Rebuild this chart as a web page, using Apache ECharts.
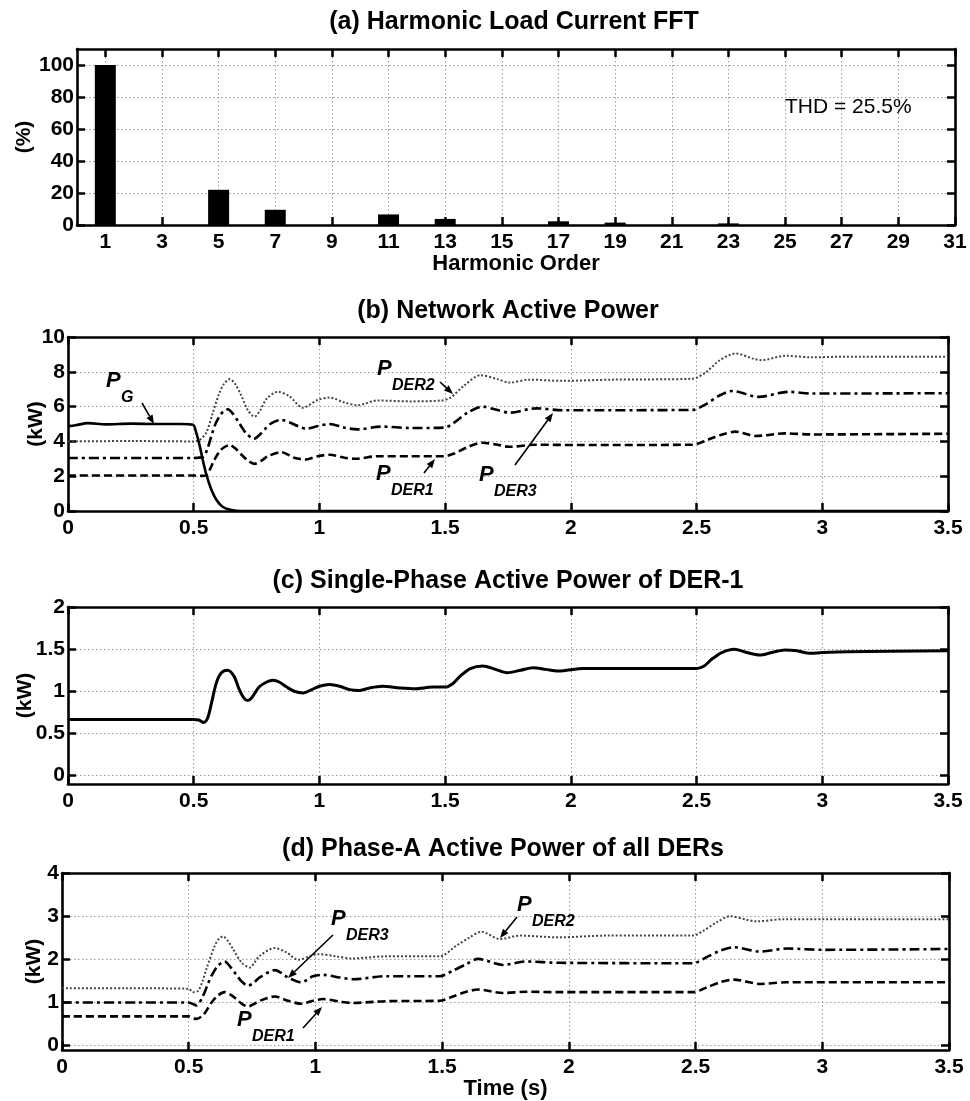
<!DOCTYPE html>
<html>
<head>
<meta charset="utf-8">
<script src="https://cdn.jsdelivr.net/npm/echarts@6/dist/echarts.min.js"></script>
<style>
  html, body { margin: 0; padding: 0; background: #fff; }
  #main { width: 970px; height: 1101px; }
</style>
</head>
<body>
<div id="main"></div>
<script>
// (a) harmonic load current spectrum, % of fundamental
var harmonicOrders = [1, 3, 5, 7, 9, 11, 13, 15, 17, 19, 21, 23, 25, 27, 29, 31];
var harmonicPct = [100, 0, 22, 9.5, 0, 6.6, 3.8, 0, 2.3, 1.5, 0, 1.0, 0, 0, 0, 0];
var percentTicks = [0, 20, 40, 60, 80, 100];

// tick values for the time panels
var timeTicks = [0, 0.5, 1, 1.5, 2, 2.5, 3, 3.5];
var netTicks = [0, 2, 4, 6, 8, 10];
var singleTicks = [0, 0.5, 1, 1.5, 2];
var phaseTicks = [0, 1, 2, 3, 4];

// (b) network active power [t (s), kW]
var netPG = [[0,4.88],[0.03,4.93],[0.08,5.05],[0.15,4.98],[0.25,5.02],[0.35,5.0],[0.45,5.0],[0.497,4.96],
  [0.51,4.5],[0.524,3.73],[0.537,2.87],[0.55,2.1],[0.57,1.23],[0.59,0.65],[0.616,0.23],[0.65,0.06],
  [0.69,0],[1.0,0],[3.5,0]];
var netDER1 = [[0,2.04],[0.3,2.04],[0.5,2.04],[0.53,2.02],[0.55,2.05],[0.565,2.4],[0.583,2.96],[0.61,3.54],
  [0.643,3.79],[0.665,3.6],[0.689,3.25],[0.715,2.9],[0.742,2.71],[0.77,2.9],[0.795,3.15],[0.848,3.38],
  [0.9,3.06],[0.947,2.96],[0.993,3.15],[1.04,3.23],[1.1,3.06],[1.145,3.0],[1.231,3.15],[1.364,3.15],
  [1.496,3.15],[1.536,3.3],[1.589,3.67],[1.648,3.92],[1.7,3.83],[1.755,3.69],[1.861,3.81],[2.03,3.79],
  [2.483,3.81],[2.549,4.12],[2.602,4.4],[2.655,4.56],[2.734,4.31],[2.853,4.46],[2.96,4.4],[3.5,4.44]];
var netDER2 = [[0,4.0],[0.25,4.02],[0.5,4.0],[0.525,4.1],[0.55,4.5],[0.575,5.6],[0.6,6.7],[0.62,7.3],
  [0.643,7.58],[0.665,7.3],[0.69,6.6],[0.715,5.8],[0.742,5.42],[0.765,5.8],[0.79,6.45],[0.835,6.85],
  [0.88,6.6],[0.934,5.94],[0.993,6.38],[1.04,6.52],[1.1,6.23],[1.152,6.08],[1.23,6.35],[1.364,6.3],
  [1.483,6.35],[1.52,6.5],[1.575,7.2],[1.64,7.8],[1.708,7.58],[1.755,7.38],[1.835,7.55],[1.967,7.48],
  [2.165,7.55],[2.483,7.6],[2.536,7.96],[2.589,8.63],[2.655,9.05],[2.73,8.73],[2.76,8.67],[2.853,8.92],
  [2.96,8.83],[3.09,8.87],[3.5,8.87]];
var netDER3 = [[0,3.05],[0.3,3.05],[0.5,3.05],[0.537,3.1],[0.555,3.6],[0.57,4.3],[0.585,4.95],[0.603,5.46],
  [0.62,5.75],[0.636,5.85],[0.655,5.6],[0.676,5.17],[0.692,4.8],[0.709,4.46],[0.74,4.15],[0.76,4.35],
  [0.782,4.69],[0.81,5.05],[0.848,5.23],[0.88,5.1],[0.914,4.88],[0.947,4.73],[0.993,4.88],[1.04,5.0],
  [1.1,4.79],[1.152,4.69],[1.245,4.85],[1.364,4.77],[1.496,4.79],[1.536,5.08],[1.589,5.65],[1.648,6.0],
  [1.708,5.8],[1.755,5.65],[1.861,5.9],[1.967,5.79],[2.483,5.81],[2.536,6.13],[2.589,6.62],[2.642,6.9],
  [2.747,6.56],[2.866,6.85],[2.96,6.75],[3.5,6.77]];

// (c) single-phase active power of DER-1 [t, kW]
var singleDER1 = [[0,0.665],[0.3,0.665],[0.5,0.665],[0.52,0.66],[0.54,0.63],[0.555,0.68],[0.57,0.85],
  [0.59,1.1],[0.61,1.22],[0.635,1.25],[0.66,1.18],[0.68,1.03],[0.7,0.92],[0.715,0.89],[0.73,0.92],
  [0.76,1.05],[0.79,1.11],[0.815,1.13],[0.84,1.11],[0.87,1.05],[0.9,1.0],[0.935,0.98],[0.97,1.02],
  [1.0,1.06],[1.04,1.08],[1.08,1.06],[1.12,1.02],[1.16,1.01],[1.2,1.04],[1.25,1.06],[1.32,1.04],
  [1.38,1.03],[1.45,1.05],[1.5,1.05],[1.53,1.09],[1.56,1.18],[1.6,1.27],[1.65,1.30],[1.7,1.26],
  [1.745,1.22],[1.8,1.25],[1.85,1.28],[1.9,1.26],[1.95,1.24],[2.05,1.27],[2.5,1.27],[2.53,1.30],
  [2.56,1.38],[2.6,1.46],[2.65,1.50],[2.7,1.46],[2.75,1.43],[2.8,1.46],[2.85,1.49],[2.9,1.48],
  [2.95,1.45],[3.0,1.46],[3.1,1.47],[3.5,1.48]];

// (d) phase-A active power of all DERs [t, kW]
var phaseDER1 = [[0,0.68],[0.3,0.68],[0.5,0.68],[0.53,0.62],[0.557,0.71],[0.575,0.86],[0.59,1.0],[0.615,1.16],
  [0.642,1.24],[0.665,1.18],[0.688,1.08],[0.71,0.97],[0.734,0.91],[0.755,0.96],[0.78,1.04],[0.84,1.14],
  [0.892,1.04],[0.945,0.97],[0.99,1.04],[1.03,1.08],[1.096,1.02],[1.142,0.99],[1.28,1.03],[1.49,1.04],
  [1.543,1.14],[1.596,1.25],[1.642,1.30],[1.74,1.22],[1.832,1.25],[1.96,1.24],[2.49,1.24],[2.544,1.35],
  [2.597,1.47],[2.65,1.53],[2.756,1.43],[2.86,1.47],[3.5,1.47]];
var phaseDER2 = [[0,1.33],[0.25,1.33],[0.5,1.32],[0.517,1.24],[0.537,1.27],[0.555,1.5],[0.57,1.78],
  [0.603,2.32],[0.62,2.48],[0.636,2.53],[0.655,2.42],[0.675,2.24],[0.708,1.93],[0.741,1.81],[0.76,1.93],
  [0.78,2.08],[0.84,2.26],[0.886,2.16],[0.932,1.99],[0.978,2.07],[1.01,2.12],[1.083,2.07],[1.142,2.02],
  [1.28,2.07],[1.49,2.07],[1.557,2.32],[1.609,2.51],[1.655,2.64],[1.728,2.47],[1.807,2.55],[1.96,2.51],
  [2.148,2.55],[2.49,2.55],[2.53,2.66],[2.584,2.86],[2.637,3.0],[2.7,2.92],[2.74,2.88],[2.85,2.93],
  [3.01,2.93],[3.5,2.93]];
var phaseDER3 = [[0,1.0],[0.3,1.0],[0.5,1.0],[0.53,0.93],[0.557,1.16],[0.575,1.42],[0.59,1.62],[0.615,1.85],
  [0.642,1.95],[0.665,1.82],[0.688,1.64],[0.71,1.48],[0.734,1.39],[0.755,1.45],[0.78,1.58],[0.84,1.75],
  [0.892,1.58],[0.945,1.47],[0.99,1.61],[1.03,1.64],[1.096,1.58],[1.149,1.54],[1.28,1.61],[1.49,1.61],
  [1.543,1.74],[1.596,1.89],[1.642,2.01],[1.74,1.87],[1.832,1.95],[1.96,1.92],[2.49,1.91],[2.544,2.05],
  [2.597,2.2],[2.65,2.28],[2.756,2.18],[2.86,2.25],[3.007,2.22],[3.5,2.24]];

var FONT = '"Liberation Sans", Arial, Helvetica, sans-serif';
var chart = echarts.init(document.getElementById('main'), null, { renderer: 'canvas' });

var frameStyle = { color: '#000', width: 2.6 };
var dots = { show: true, lineStyle: { color: '#9a9a9a', width: 1, type: [1.5, 2.5] } };

function tickStyle(values) {
  return { show: true, inside: true, length: 8, customValues: values, lineStyle: { color: '#000', width: 2.5 } };
}

// bottom/left axes carry labels and grid lines, top/right just close the box
function xPair(grid, min, max, ticks, name, gap) {
  return [{
    type: 'value', gridIndex: grid, position: 'bottom', min: min, max: max,
    axisLine: { show: true, onZero: false, lineStyle: frameStyle },
    axisTick: tickStyle(ticks),
    axisLabel: { customValues: ticks, margin: 7, color: '#000', fontSize: 21, fontWeight: 'bold', fontFamily: FONT },
    splitLine: dots,
    name: name || '', nameLocation: 'middle', nameGap: gap || 0, nameMoveOverlap: false,
    nameTextStyle: { color: '#000', fontSize: 22, fontWeight: 'bold', fontFamily: FONT, verticalAlign: 'top' }
  }, {
    type: 'value', gridIndex: grid, position: 'top', min: min, max: max,
    axisLine: { show: true, onZero: false, lineStyle: frameStyle },
    axisTick: tickStyle(ticks), axisLabel: { show: false }, splitLine: { show: false }
  }];
}

function yPair(grid, min, max, ticks, name, gap) {
  return [{
    type: 'value', gridIndex: grid, position: 'left', min: min, max: max,
    axisLine: { show: true, onZero: false, lineStyle: frameStyle },
    axisTick: tickStyle(ticks),
    axisLabel: { customValues: ticks, margin: 3, color: '#000', fontSize: 21, fontWeight: 'bold', fontFamily: FONT },
    splitLine: dots,
    name: name, nameLocation: 'middle', nameGap: gap, nameMoveOverlap: false,
    nameTextStyle: { color: '#000', fontSize: 21, fontWeight: 'bold', fontFamily: FONT }
  }, {
    type: 'value', gridIndex: grid, position: 'right', min: min, max: max,
    axisLine: { show: true, onZero: false, lineStyle: frameStyle },
    axisTick: tickStyle(ticks), axisLabel: { show: false }, splitLine: { show: false }
  }];
}

function lineSeries(panel, data, width, type, color) {
  return {
    type: 'line', xAxisIndex: panel * 2, yAxisIndex: panel * 2, data: data,
    showSymbol: false, symbol: 'none', smooth: 0.3, clip: true,
    lineStyle: { color: color || '#000', width: width, type: type }
  };
}

function title(text, cx, cy) {
  return { type: 'text', x: cx, y: cy, z: 10,
    style: { text: text, fill: '#000', font: 'bold 25px ' + FONT, textAlign: 'center', textVerticalAlign: 'middle' } };
}

// "P" with a subscript, placed by pixel
function pLabel(px, py, sub) {
  return [
    { type: 'text', x: px, y: py, z: 10,
      style: { text: 'P', fill: '#000', font: 'italic bold 22px ' + FONT, textVerticalAlign: 'top' } },
    { type: 'text', x: px + 15, y: py + 20, z: 10,
      style: { text: sub, fill: '#000', font: 'italic bold 16px ' + FONT, textVerticalAlign: 'top' } }
  ];
}

function arrow(x1, y1, x2, y2) {
  var a = Math.atan2(y2 - y1, x2 - x1), L = 9, W = 3.5;
  var bx = x2 - L * Math.cos(a), by = y2 - L * Math.sin(a);
  return [
    { type: 'line', z: 10, shape: { x1: x1, y1: y1, x2: bx, y2: by }, style: { stroke: '#000', lineWidth: 1.6 } },
    { type: 'polygon', z: 10, shape: { points: [[x2, y2],
        [bx + W * Math.sin(a), by - W * Math.cos(a)], [bx - W * Math.sin(a), by + W * Math.cos(a)]] },
      style: { fill: '#000' } }
  ];
}

var graphics = [
  title('(a) Harmonic Load Current FFT', 514, 22),
  title('(b) Network Active Power', 508, 311),
  title('(c) Single-Phase Active Power of DER-1', 508, 581),
  title('(d) Phase-A Active Power of all DERs', 503, 849),
  { type: 'text', x: 785, y: 107, z: 10,
    style: { text: 'THD = 25.5%', fill: '#000', font: '21px ' + FONT, textVerticalAlign: 'middle' } }
].concat(
  pLabel(106, 370, 'G'), arrow(142, 403, 154, 424),
  pLabel(377, 358, 'DER2'), arrow(440, 382, 453, 394),
  pLabel(376, 463, 'DER1'), arrow(424, 473, 435, 459),
  pLabel(479, 464, 'DER3'), arrow(515, 465, 553, 413),
  pLabel(331, 908, 'DER3'), arrow(333, 935, 288, 978),
  pLabel(237, 1009, 'DER1'), arrow(303, 1028, 322, 1007),
  pLabel(517, 894, 'DER2'), arrow(517, 917, 500, 938)
);

var option = {
  animation: false,
  backgroundColor: '#fff',
  grid: [
    { left: 77, top: 49, width: 878, height: 176 },
    { left: 68, top: 337, width: 880, height: 174 },
    { left: 68, top: 607, width: 880, height: 177 },
    { left: 62, top: 873, width: 887, height: 179 }
  ],
  xAxis: [].concat(
    xPair(0, 0, 31, harmonicOrders, 'Harmonic Order', 28),
    xPair(1, 0, 3.5, timeTicks),
    xPair(2, 0, 3.5, timeTicks),
    xPair(3, 0, 3.5, timeTicks, 'Time (s)', 28)
  ),
  yAxis: [].concat(
    yPair(0, 0, 110, percentTicks, '(%)', 42),
    yPair(1, 0, 10, netTicks, '(kW)', 21),
    yPair(2, -0.1, 2, singleTicks, '(kW)', 32),
    yPair(3, -0.1, 4, phaseTicks, '(kW)', 17)
  ),
  graphic: graphics,
  series: [
    {
      type: 'bar', xAxisIndex: 0, yAxisIndex: 0, barWidth: 21,
      data: harmonicOrders.map(function (h, i) { return [h, harmonicPct[i]]; }),
      itemStyle: { color: '#000' }
    },
    lineSeries(1, netDER2, 2, [2, 2], '#444'),
    lineSeries(1, netDER3, 2.6, [10, 4, 3, 4]),
    lineSeries(1, netDER1, 2.6, [8, 4]),
    lineSeries(1, netPG, 2.6, 'solid'),
    lineSeries(2, singleDER1, 3, 'solid'),
    lineSeries(3, phaseDER2, 2, [2, 2], '#444'),
    lineSeries(3, phaseDER3, 2.6, [10, 4, 3, 4]),
    lineSeries(3, phaseDER1, 2.6, [8, 4])
  ]
};

chart.setOption(option);
</script>
</body>
</html>
